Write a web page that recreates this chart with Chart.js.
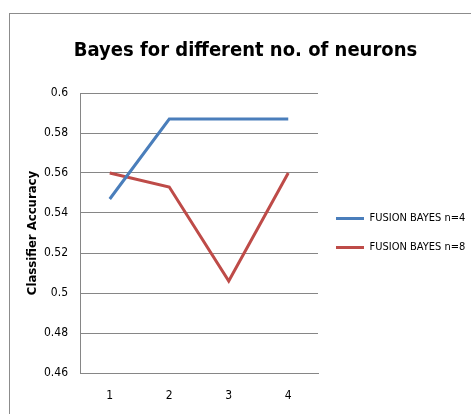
<!DOCTYPE html>
<html lang="en">
<head>
    <meta charset="UTF-8">
    <title>Bayes for different no. of neurons</title>
    <script src="https://cdn.jsdelivr.net/npm/chart.js"></script>
    <style>
        html, body { margin: 0; padding: 0; background: #fff; overflow: hidden; }
        .frame { position: absolute; left: 9px; top: 13px; width: 600px; height: 600px; border: 1px solid #8c8c8c; }
        .wrap { position: absolute; left: 0; top: 0; width: 471px; height: 414px; }
    </style>
</head>
<body>
<div class="frame"></div>
<div class="wrap"><canvas id="bayesChart" width="471" height="414"></canvas></div>

<script>
    const neurons = ['1', '2', '3', '4'];
    const fusionBayesN4 = [0.547, 0.587, 0.587, 0.587];
    const fusionBayesN8 = [0.560, 0.553, 0.506, 0.560];
    const yTicks = [0.46, 0.48, 0.5, 0.52, 0.54, 0.56, 0.58, 0.6];

    const fontFam = "'Liberation Sans Narrow', 'DejaVu Sans Condensed', 'Liberation Sans', sans-serif";

    // right-hand legend: fixed width, centred on the plot area like the excel one
    const wideLegend = {
        id: 'wideLegend',
        afterInit(chart) {
            const lg = chart.legend;
            if (!lg) return;
            const fit = lg.fit;
            lg.fit = function () {
                this.maxWidth = 200;
                fit.call(this);
                this.width = 153;
            };
        },
        afterLayout(chart) {
            const lg = chart.legend;
            if (!lg) return;
            lg.top = chart.chartArea.top;
            lg.bottom = chart.chartArea.bottom;
            lg.height = lg.bottom - lg.top;
        }
    };

    new Chart(document.getElementById('bayesChart'), {
        type: 'line',
        data: {
            labels: neurons,
            datasets: [{
                label: 'FUSION BAYES n=4',
                data: fusionBayesN4,
                borderColor: '#4a7ebb',
                backgroundColor: '#4a7ebb',
                borderWidth: 3,
                pointRadius: 0,
                tension: 0
            }, {
                label: 'FUSION BAYES n=8',
                data: fusionBayesN8,
                borderColor: '#be4b48',
                backgroundColor: '#be4b48',
                borderWidth: 3,
                pointRadius: 0,
                tension: 0
            }]
        },
        plugins: [wideLegend],
        options: {
            responsive: false,
            animation: false,
            layout: { padding: { left: 20, right: 0, top: 0, bottom: 0 } },
            plugins: {
                title: {
                    display: true,
                    text: 'Bayes for different no. of neurons',
                    color: '#000',
                    font: { family: fontFam, size: 20, weight: 'bold' },
                    padding: { top: 39, bottom: 30 }
                },
                legend: {
                    position: 'right',
                    labels: {
                        usePointStyle: true,
                        pointStyle: 'line',
                        pointStyleWidth: 28,
                        color: '#000',
                        font: { family: fontFam, size: 11 },
                        padding: 18
                    }
                },
                tooltip: { enabled: false }
            },
            scales: {
                x: {
                    offset: true,
                    grid: { display: false, drawTicks: false },
                    border: { color: '#868686', width: 1 },
                    ticks: { color: '#000', font: { family: fontFam, size: 12 }, padding: 16 },
                    afterFit: s => { s.height = 41; }
                },
                y: {
                    min: 0.46,
                    max: 0.6,
                    afterBuildTicks: s => { s.ticks = yTicks.map(v => ({ value: v })); },
                    grid: { color: '#868686', drawTicks: false },
                    border: { color: '#868686', width: 1 },
                    ticks: {
                        color: '#000',
                        font: { family: fontFam, size: 12 },
                        padding: 12,
                        callback: v => String(parseFloat(v.toFixed(2)))
                    },
                    title: {
                        display: true,
                        text: 'Classifier Accuracy',
                        color: '#000',
                        font: { family: fontFam, size: 13, weight: 'bold' },
                        padding: { top: 5, bottom: 0 }
                    },
                    afterFit: s => { s.width = 60; }
                }
            }
        }
    });
</script>
</body>
</html>
